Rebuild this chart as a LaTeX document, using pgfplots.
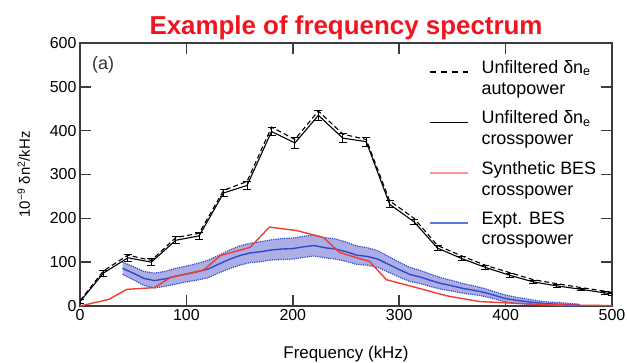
\documentclass[border=0pt]{standalone}
\usepackage{fontspec}
\setmainfont{Liberation Sans}
\usepackage{pgfplots}
\usepackage{pgfplotstable}
\pgfplotsset{compat=1.18}
\usepgfplotslibrary{fillbetween}
\definecolor{titlered}{RGB}{240,20,30}
\definecolor{synred}{RGB}{240,60,50}
\definecolor{synredl}{RGB}{248,150,140}
\definecolor{exblue}{RGB}{45,75,200}
\definecolor{exbluel}{RGB}{90,125,215}
\definecolor{bandc}{RGB}{165,165,228}
\definecolor{axgray}{RGB}{60,60,60}

\pgfplotstableread{
f v e
0 10 4
22 75 7
45 110 8
67 100 8
90 150 8
112 160 8
135 258 8
157 275 10
180 398 10
202 372 12
224 435 12
247 383 10
269 375 10
291 232 8
314 192 6
336 132 6
359 108 5
381 88 5
404 70 4
426 55 4
448 46 4
471 38 3
493 30 3
500 28 3
}\cross

\pgfplotstableread{
f v
0 12
22 80
45 116
67 104
90 156
112 166
135 264
157 284
180 408
202 380
224 445
247 392
269 380
291 240
314 200
336 138
359 114
381 93
404 76
426 60
448 51
471 42
493 34
500 31
}\auto

\pgfplotstableread{
f v
0 0
27 15
44 38
70 42
85 65
116 82
132 115
160 134
178 180
204 172
229 156
244 122
263 108
272 102
288 60
316 42
345 23
376 10
420 5
460 2
500 1
}\synth

\pgfplotstableread{
f c up lo
40 86 100 72
50 75 90 60
60 63 79 47
70 58 75 41
80 62 79 45
90 68 86 50
100 73 91 55
110 78 97 59
120 84 104 64
130 95 115 75
140 106 127 85
150 115 137 93
160 121 143 99
170 124 147 101
180 128 151 105
190 130 154 106
200 131 155 107
210 135 159 111
220 138 162 114
230 133 156 110
240 130 153 107
250 124 146 102
260 116 137 95
270 113 133 93
280 107 126 88
290 95 113 77
300 83 100 66
310 72 88 56
320 66 81 51
330 58 72 44
340 51 64 38
350 46 58 34
360 40 51 29
370 36 46 26
380 31 40 22
390 24 32 16
400 17 25 9
410 13 20 6
420 10 16 4
430 7 12 2
440 5 9 1
450 4 8 0
460 3 6 0
470 2 4 0
}\expt

\begin{document}
\begin{tikzpicture}
\begin{axis}[name=ax, scale only axis, width=532bp, height=263bp,
  xmin=0, xmax=500, ymin=0, ymax=600,
  xtick={0,100,...,500}, ytick={0,100,...,600},
  tick align=inside, major tick length=11bp,
  every tick/.style={axgray, line width=1.6bp},
  axis line style={axgray, line width=1.6bp},
  tick label style={font=\fontsize{16}{18}\selectfont},
  /pgf/number format/assume math mode=true,
  xlabel={Frequency (kHz)},
  ylabel={10\textsuperscript{−9} δn\textsuperscript{2}/kHz},
  xlabel style={font=\fontsize{17}{19}\selectfont, at={(axis description cs:0.5,0)}, anchor=base, yshift=-52bp},
  ylabel style={font=\fontsize{15}{18}\selectfont, at={(axis description cs:-0.094,0.5)}, anchor=base},
  title={Example of frequency spectrum},
  title style={font=\bfseries\fontsize{26}{28}\selectfont, text=titlered, at={(axis description cs:0.5,1)}, anchor=base, yshift=3bp},
  legend style={draw=none, fill=none, at={(rel axis cs:0.98,0.95)}, anchor=north east,
    font=\fontsize{18}{21}\selectfont, cells={align=left}, row sep=11bp},
  legend cell align=left,
  legend image code/.code={\draw[#1] (0bp,6bp) -- (38bp,6bp); \path[draw=none] (0bp,0bp) (50bp,0bp);},
]
% legend
\addlegendimage{black, dash pattern=on 6bp off 5bp, line width=1.3bp}
\addlegendentry{Unfiltered δn\textsubscript{e}\\autopower}
\addlegendimage{black, line width=1.3bp}
\addlegendentry{Unfiltered δn\textsubscript{e}\\crosspower}
\addlegendimage{synredl, line width=2bp}
\addlegendentry{Synthetic BES\\crosspower}
\addlegendimage{exbluel, line width=2bp}
\addlegendentry{Expt. BES\\crosspower}

% band
\addplot[name path=up, exblue, densely dotted, line width=1.2bp, forget plot] table[x=f, y=up] {\expt};
\addplot[name path=lo, exblue, densely dotted, line width=1.2bp, forget plot] table[x=f, y=lo] {\expt};
\addplot[bandc, fill opacity=0.9, forget plot] fill between[of=up and lo];
\addplot[exblue, line width=1.4bp, forget plot] table[x=f, y=c] {\expt};

% synthetic
\addplot[synred, line width=1.4bp, forget plot] table[x=f, y=v] {\synth};

% unfiltered
\addplot[black, dash pattern=on 5bp off 3bp, line width=1.1bp, forget plot] table[x=f, y=v] {\auto};
\addplot[black, line width=1.1bp, forget plot,
  error bars/.cd, y dir=both, y explicit,
  error bar style={line width=1bp},
  error mark options={line width=1bp, mark size=4bp, rotate=90}]
  table[x=f, y=v, y error=e] {\cross};

\node[anchor=west, inner sep=0pt, font=\fontsize{18}{20}\selectfont, text=black!80] at (rel axis cs:0.0226,0.916) {(a)};
\end{axis}
\pgfresetboundingbox
\path[use as bounding box] ([shift={(-80bp,-56bp)}]ax.south west) rectangle ([shift={(15bp,43bp)}]ax.north east);
\end{tikzpicture}
\end{document}
